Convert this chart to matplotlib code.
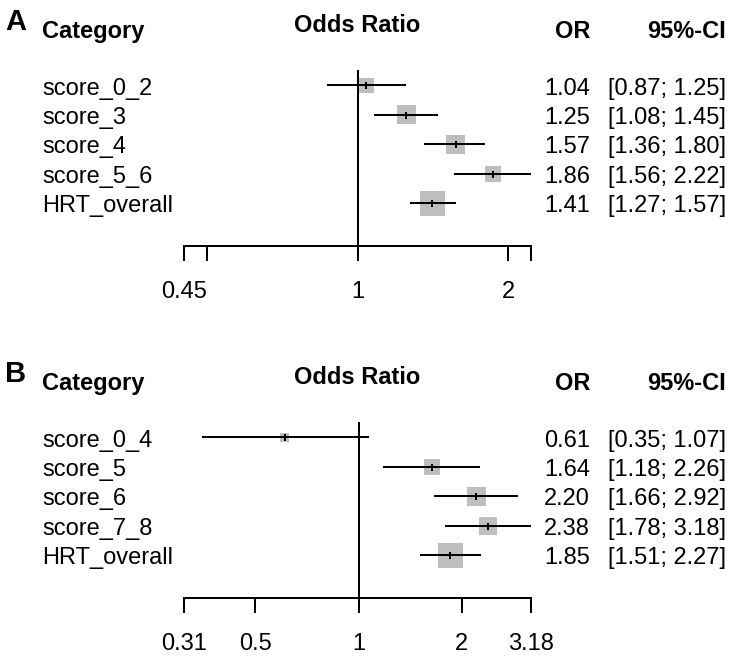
import numpy as np
import matplotlib
matplotlib.use("Agg")
import matplotlib.pyplot as plt
import matplotlib.transforms as mtransforms

plt.rcParams['font.family'] = ['Liberation Sans', 'DejaVu Sans']

# ---- data ----
cats_a = ["score_0_2", "score_3", "score_4", "score_5_6", "HRT_overall"]
or_a = [1.04, 1.25, 1.57, 1.86, 1.41]
lo_a = [0.87, 1.08, 1.36, 1.56, 1.27]
hi_a = [1.25, 1.45, 1.80, 2.22, 1.57]
box_a = [0.60, 0.76, 0.76, 0.64, 1.00]   # relative box side (weight)
ticks_a = [0.45, 0.5, 1, 2, 2.22]
ticklab_a = ["0.45", "", "1", "2", ""]

cats_b = ["score_0_4", "score_5", "score_6", "score_7_8", "HRT_overall"]
or_b = [0.61, 1.64, 2.20, 2.38, 1.85]
lo_b = [0.35, 1.18, 1.66, 1.78, 1.51]
hi_b = [1.07, 2.26, 2.92, 3.18, 2.27]
box_b = [0.36, 0.64, 0.76, 0.72, 1.00]
ticks_b = [0.31, 0.5, 1, 2, 3.18]
ticklab_b = ["0.31", "0.5", "1", "2", "3.18"]

W, H = 731, 659
fig = plt.figure(figsize=(W / 100, H / 100), dpi=100)
fs = 17
grey = "#bebebe"
lw = 1.45


def fx(x):
    return x / W


def fy(y):
    return 1 - y / H


def panel(letter, cats, est, lo, hi, box, ticks, ticklab, ybot):
    # forest area in pixel layout: x 184..531, bottom axis line at ybot
    row_px = 29.4
    height = 6 * row_px
    ax = fig.add_axes([fx(184), fy(ybot), 347 / W, height / H])
    ax.set_xscale("log")
    ax.set_xlim(ticks[0], ticks[-1])
    ax.set_ylim(6.46, 0.46)
    rows = np.arange(1, len(cats) + 1)

    ax.axvline(1, color="black", lw=lw, zorder=1)
    ax.hlines(rows, lo, hi, color="black", lw=lw, zorder=3)
    sizes = (np.array(box) * 25 * 0.72) ** 2
    ax.scatter(est, rows, s=sizes, marker="s", color=grey, edgecolors="none", zorder=2)
    ax.scatter(est, rows, s=(7 * 0.72) ** 2, marker="|", color="black", linewidths=lw, zorder=4)

    for sp in ["top", "left", "right"]:
        ax.spines[sp].set_visible(False)
    ax.spines["bottom"].set_linewidth(lw)
    ax.set_yticks([])
    ax.minorticks_off()
    ax.set_xticks(ticks)
    ax.set_xticklabels(ticklab)
    ax.tick_params(axis="x", which="major", length=10.5, width=lw, pad=15, labelsize=fs)
    ax.patch.set_alpha(0)

    # text columns: x in figure, y in row data
    trans = mtransforms.blended_transform_factory(fig.transFigure, ax.transData)
    trans = mtransforms.offset_copy(trans, fig=fig, y=-6.5, units="points")
    for r, c, e, l, h in zip(rows, cats, est, lo, hi):
        ax.text(fx(42), r, c, transform=trans, ha="left", va="baseline", fontsize=fs)
        ax.text(fx(590), r, f"{e:.2f}", transform=trans, ha="right", va="baseline", fontsize=fs)
        ax.text(fx(726), r, f"[{l:.2f}; {h:.2f}]", transform=trans, ha="right", va="baseline", fontsize=fs)

    # headers
    fig.text(fx(5), fy(ybot - 216), letter, fontsize=21, fontweight="bold", ha="left", va="baseline")
    fig.text(fx(42), fy(ybot - 208), "Category", fontsize=fs, fontweight="bold", ha="left", va="baseline")
    fig.text(fx(357), fy(ybot - 214), "Odds Ratio", fontsize=fs, fontweight="bold", ha="center", va="baseline")
    fig.text(fx(590), fy(ybot - 208), "OR", fontsize=fs, fontweight="bold", ha="right", va="baseline")
    fig.text(fx(726), fy(ybot - 208), "95%-CI", fontsize=fs, fontweight="bold", ha="right", va="baseline")
    return ax


panel("A", cats_a, or_a, lo_a, hi_a, box_a, ticks_a, ticklab_a, 246)
panel("B", cats_b, or_b, lo_b, hi_b, box_b, ticks_b, ticklab_b, 598)

fig.savefig("out.png", dpi=100)
